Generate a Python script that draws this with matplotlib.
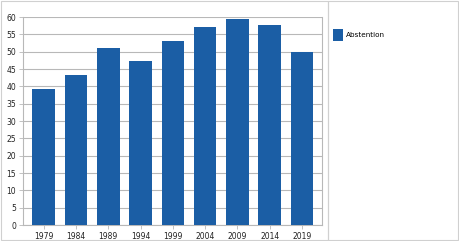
import numpy as np
import matplotlib.pyplot as plt
from matplotlib.patches import Rectangle

years = ['1979', '1984', '1989', '1994', '1999', '2004', '2009', '2014', '2019']
abstention = [39.3, 43.3, 51.2, 47.3, 53.2, 57.2, 59.4, 57.6, 49.9]

bar_color = '#1b5ea5'
grid_color = '#b8b8b8'

fig = plt.figure(figsize=(4.6, 2.41), dpi=100)
ax = fig.add_axes([0.05, 0.066, 0.65, 0.863])

x = np.arange(len(years))
ax.bar(x, abstention, width=0.7, color=bar_color, label='Abstention', zorder=3)

ax.set_xlim(-0.64, 8.62)
ax.set_ylim(0, 60)
ax.set_yticks(np.arange(0, 61, 5))
ax.set_xticks(x)
ax.set_xticklabels(years)
ax.yaxis.grid(True, color=grid_color, linewidth=0.8, zorder=0)
ax.tick_params(axis='both', labelsize=5.5, length=3, width=0.6,
               color=grid_color, labelcolor='#222222', pad=2)

for side in ['left', 'right', 'bottom']:
    ax.spines[side].set_color(grid_color)
    ax.spines[side].set_linewidth(0.8)
ax.spines['top'].set_visible(False)

# outer boxes around chart and legend areas
fig.patches.append(Rectangle((0.002, 0.004), 0.711, 0.992, transform=fig.transFigure,
                             fill=False, edgecolor='#d0d0d0', linewidth=0.8))
fig.patches.append(Rectangle((0.713, 0.004), 0.283, 0.992, transform=fig.transFigure,
                             fill=False, edgecolor='#d0d0d0', linewidth=0.8))

fig.legend(loc='upper left', bbox_to_anchor=(0.71, 0.905), frameon=False,
           fontsize=5.2, handlelength=1.4, handleheight=2.0, handletextpad=0.4)

plt.savefig('out.png', dpi=100)
